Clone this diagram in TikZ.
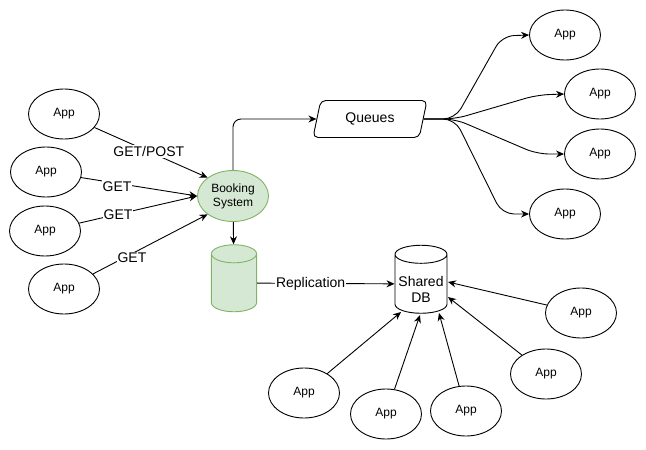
\documentclass[tikz,border=0pt]{standalone}
\usepackage{fontspec}
\setmainfont{Liberation Sans}
\usetikzlibrary{calc,positioning,shapes.geometric,arrows.meta}
\definecolor{BookingFill}{HTML}{D5E8D4}
\definecolor{BookingLine}{HTML}{82B366}
\tikzset{
  app/.style={ellipse, draw, fill=white, minimum width=71pt, minimum height=50pt,
    inner sep=0pt, font=\fontsize{12}{14}\selectfont},
  store/.style={cylinder, shape border rotate=90, draw, inner sep=0pt, align=center,
    aspect=0.4, font=\fontsize{14}{16}\selectfont},
  link/.style={-{Stealth[length=8pt,width=7pt]}},
  tag/.style={fill=white, inner sep=1pt, font=\fontsize{14}{16}\selectfont}
}

\begin{document}
\begin{tikzpicture}[x=1pt, y=-1pt, line width=0.9pt]
    \useasboundingbox (0,0) rectangle (646,450);

    \node[ellipse, draw=BookingLine, fill=BookingFill, minimum width=71pt, minimum height=51pt,
      inner sep=0pt, align=center, font=\fontsize{12}{14}\selectfont] (booking) at (233,196) {Booking\\System};
    \node[store, draw=BookingLine, fill=BookingFill, minimum width=44pt, minimum height=67pt] (replica) at (234,283) {\phantom{Shared}};
    \node[store, fill=white, minimum width=52pt, minimum height=68pt,
      label={[font=\fontsize{14}{16}\selectfont, align=center, yshift=-5pt]center:Shared\\DB}] (shared) at (421,284) {\phantom{Shared}};
    \node[trapezium, trapezium left angle=58, trapezium right angle=122, draw, rounded corners=5pt,
      minimum width=114pt, minimum height=37pt, trapezium stretches body, inner sep=0pt,
      font=\fontsize{14}{16}\selectfont] (queues) at (370,119) {Queues};

    \node[app] (clientA) at (64,114) {App};
    \node[app] (clientB) at (46,172) {App};
    \node[app] (clientC) at (45,231) {App};
    \node[app] (clientD) at (64,289) {App};

    \node[app] (subA) at (565,35) {App};
    \node[app] (subB) at (600,94) {App};
    \node[app] (subC) at (600,154) {App};
    \node[app] (subD) at (565,214) {App};

    \node[app] (userA) at (304,393) {App};
    \node[app] (userB) at (386,414) {App};
    \node[app] (userC) at (466,411) {App};
    \node[app] (userD) at (546,374) {App};
    \node[app] (userE) at (581,313) {App};

    \draw[link] (clientA) -- node[tag, pos=0.48] {GET/POST} (booking.north west);
    \draw[link] (clientB) -- node[tag, pos=0.31, yshift=-3pt] {GET} (booking.west);
    \draw[link] (clientC) -- node[tag, pos=0.33] {GET} (booking.west);
    \draw[link] (clientD) -- node[tag, pos=0.34, yshift=-4pt] {GET} (booking.south west);

    \draw[link, rounded corners=8pt] (booking.north) |- (queues.west);
    \draw[link] (booking) -- (replica);
    \draw[link] (replica) -- node[tag, pos=0.39] {Replication} (shared);

    \coordinate (fan) at (455,119);
    \draw[link, rounded corners=12pt] (queues.east) -- (fan) -- (502,36) -- (subA.west);
    \draw[link, rounded corners=12pt] (queues.east) -- (fan) -- (537,95) -- (subB.west);
    \draw[link, rounded corners=12pt] (queues.east) -- (fan) -- (537,154) -- (subC.west);
    \draw[link, rounded corners=12pt] (queues.east) -- (fan) -- (502,214) -- (subD.west);

    \draw[link] (userA) -- ($(shared.center)+(-20,28)$);
    \draw[link] (userB) -- ($(shared.center)+(-1,31)$);
    \draw[link] (userC) -- ($(shared.center)+(18,29)$);
    \draw[link] (userD) -- ($(shared.center)+(27,13)$);
    \draw[link] (userE) -- ($(shared.center)+(27,-2)$);
  \end{tikzpicture}
\end{document}
